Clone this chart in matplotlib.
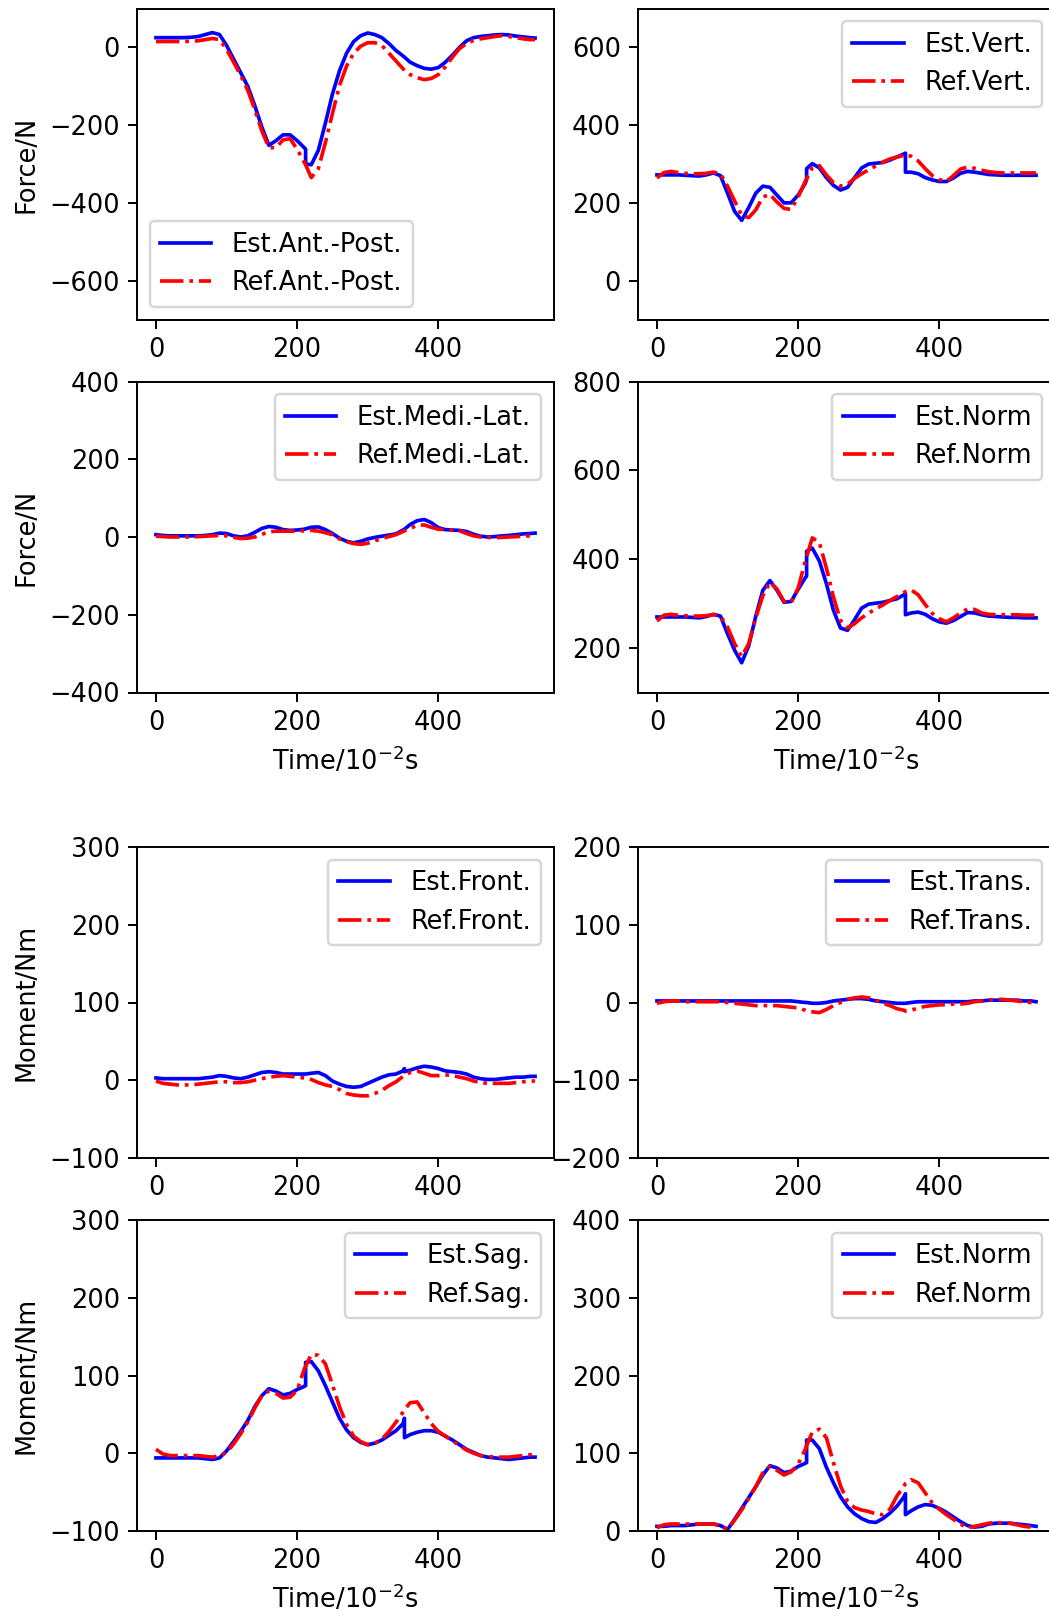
import matplotlib
matplotlib.use('Agg')
import matplotlib.pyplot as plt

plt.rcParams['font.size'] = 10.5

# time samples (10^-2 s); repeated 212/352 entries carry the jumps
T = [0, 10, 20, 30, 40, 50, 60, 70, 80, 90, 100, 110, 120, 130, 140, 150, 160, 170, 180, 190, 200, 210,
     212, 212,
     220, 230, 240, 250, 260, 270, 280, 290, 300, 310, 320, 330, 340, 350,
     352, 352,
     360, 370, 380, 390, 400, 410, 420, 430, 440, 450, 460, 470, 480, 490, 500, 510, 520, 530,
     537]

ap_est = [25, 25, 25, 25, 25, 26, 28, 33, 38, 33, 5, -30, -65, -100, -150, -205, -252, -240, -225, -225, -240, -258,
          -262, -300,
          -302, -265, -195, -120, -60, -15, 15, 30, 37, 33, 25, 10, -8, -22,
          -25, -25,
          -38, -47, -54, -56, -52, -38, -20, 0, 17, 25, 28, 30, 32, 33, 32, 29, 27, 25,
          24]
ap_ref = [15, 15, 15, 15, 15, 16, 17, 20, 23, 20, -5, -38, -72, -110, -160, -215, -258, -258, -238, -235, -262, -295,
          -302, -302,
          -335, -312, -245, -170, -98, -48, -15, 3, 12, 12, 5, -15, -35, -55,
          -60, -60,
          -70, -78, -83, -80, -70, -50, -25, -3, 10, 18, 22, 25, 28, 30, 28, 25, 22, 20,
          20]

vert_est = [272, 272, 272, 272, 271, 270, 269, 272, 277, 270, 225, 178, 155, 188, 225, 243, 240, 220, 200, 200, 220, 250,
            260, 288,
            301, 290, 265, 245, 233, 240, 265, 290, 300, 302, 304, 310, 318, 326,
            328, 279,
            279, 275, 265, 259, 255, 255, 264, 276, 281, 279, 276, 273, 272, 271, 271, 271, 271, 271,
            271]
vert_ref = [264, 278, 281, 278, 276, 275, 275, 276, 279, 275, 243, 205, 168, 162, 182, 215, 222, 202, 186, 183, 215, 255,
            262, 262,
            290, 296, 272, 252, 243, 248, 263, 275, 285, 295, 305, 313, 318, 322,
            324, 324,
            320, 308, 288, 270, 260, 255, 270, 287, 292, 289, 284, 280, 278, 277, 277, 277, 277, 277,
            277]

ml_est = [6, 4, 3, 3, 3, 3, 3, 4, 6, 10, 9, 3, 0, 3, 12, 22, 27, 25, 19, 17, 18, 20,
          21, 21,
          25, 26, 19, 9, -3, -11, -15, -11, -5, -1, 2, 5, 8, 18,
          20, 20,
          32, 42, 45, 37, 24, 19, 18, 17, 14, 7, 2, 0, 1, 3, 4, 6, 8, 9,
          10]
ml_ref = [2, 1, 0, 0, 0, 0, 1, 2, 3, 4, 3, -1, -4, -3, 0, 7, 13, 15, 15, 15, 15, 16,
          16, 16,
          17, 15, 11, 6, -5, -12, -17, -19, -16, -10, -4, 1, 6, 14,
          16, 16,
          22, 30, 31, 25, 20, 19, 18, 16, 9, 3, 0, -1, -2, -1, 0, 1, 2, 3,
          3]

fnorm_est = [270, 270, 270, 270, 270, 269, 268, 271, 276, 272, 232, 195, 167, 205, 272, 330, 352, 330, 303, 305, 332, 358,
             362, 418,
             425, 396, 345, 285, 245, 240, 264, 290, 299, 301, 303, 307, 311, 320,
             323, 275,
             279, 281, 276, 266, 259, 256, 262, 271, 280, 279, 275, 272, 271, 270, 269, 269, 268, 268,
             268]
fnorm_ref = [261, 274, 276, 274, 273, 272, 272, 273, 275, 272, 247, 210, 181, 210, 268, 318, 348, 333, 305, 302, 335, 395,
             405, 405,
             448, 438, 380, 315, 262, 245, 255, 268, 279, 288, 297, 307, 316, 325,
             327, 327,
             331, 320, 298, 278, 266, 259, 268, 279, 288, 287, 279, 276, 275, 275, 275, 275, 274, 274,
             274]

front_est = [3, 2, 2, 2, 2, 2, 2, 3, 4, 6, 5, 3, 2, 4, 7, 10, 11, 10, 8, 8, 8, 8,
             8, 8,
             9, 10, 6, -1, -5, -8, -9, -8, -4, 0, 4, 7, 8, 12,
             15, 11,
             13, 16, 18, 17, 15, 12, 11, 10, 8, 4, 2, 1, 1, 2, 3, 4, 4, 5,
             5]
front_ref = [-1, -4, -5, -6, -6, -6, -5, -4, -3, -2, -2, -3, -3, -2, 0, 2, 4, 5, 6, 5, 4, 3,
             3, 3,
             1, -3, -6, -8, -12, -17, -19, -20, -20, -17, -13, -7, -2, 5,
             6, 6,
             10, 12, 9, 6, 6, 7, 6, 4, 2, -1, -3, -4, -4, -4, -4, -3, -2, -1,
             -1]

trans_est = [2, 2, 2, 2, 2, 2, 2, 2, 2, 2, 2, 2, 2, 2, 2, 2, 2, 2, 2, 2, 1, 0,
             0, 0,
             -1, -1, 0, 2, 3, 4, 5, 5, 4, 2, 1, 0, -1, -1,
             -1, -1,
             0, 1, 1, 1, 1, 1, 1, 1, 1, 2, 2, 3, 3, 3, 3, 3, 2, 2,
             1]
trans_ref = [-1, 1, 2, 2, 1, 1, 1, 1, 1, 1, 0, -1, -2, -3, -4, -4, -4, -4, -5, -6, -7, -10,
             -11, -11,
             -12, -13, -9, -4, 0, 4, 6, 7, 6, 3, -1, -4, -8, -10,
             -11, -11,
             -10, -7, -5, -4, -3, -3, -2, -2, -1, 1, 2, 3, 4, 4, 3, 2, 1, 0,
             0]

sag_est = [-6, -6, -6, -6, -6, -6, -6, -7, -8, -6, 3, 15, 28, 42, 60, 74, 83, 80, 75, 77, 82, 86,
           87, 117,
           118, 106, 87, 66, 45, 30, 20, 14, 11, 13, 17, 23, 29, 38,
           45, 20,
           24, 27, 29, 29, 27, 22, 17, 11, 5, 1, -3, -5, -6, -7, -8, -7, -6, -5,
           -5]
sag_ref = [5, -1, -3, -3, -3, -3, -3, -4, -5, -3, 1, 12, 25, 40, 58, 74, 80, 77, 71, 72, 81, 108,
           112, 112,
           127, 126, 115, 88, 60, 37, 22, 15, 11, 13, 18, 28, 40, 53,
           56, 56,
           65, 66, 52, 38, 28, 22, 16, 10, 4, 0, -3, -4, -5, -5, -5, -4, -3, -2,
           -2]

mnorm_est = [6, 6, 7, 7, 7, 8, 9, 9, 9, 7, 2, 15, 29, 43, 57, 72, 84, 81, 75, 77, 83, 87,
             88, 117,
             117, 106, 82, 62, 44, 31, 22, 16, 12, 11, 16, 23, 32, 44,
             48, 21,
             26, 31, 34, 33, 29, 24, 18, 12, 7, 5, 6, 9, 10, 10, 10, 9, 8, 7,
             6]
mnorm_ref = [4, 8, 9, 9, 9, 9, 9, 9, 9, 7, 2, 14, 27, 42, 57, 75, 83, 78, 72, 76, 86, 105,
             110, 110,
             127, 131, 120, 88, 58, 38, 30, 27, 25, 22, 21, 28, 45, 58,
             61, 61,
             66, 62, 49, 36, 28, 21, 15, 9, 4, 6, 8, 10, 11, 10, 10, 8, 6, 5,
             4]

DPI = 176
fig = plt.figure(figsize=(1049 / DPI, 1616 / DPI), dpi=DPI)

W = 417 / 1049
H = 311 / 1616
lefts = [137 / 1049, 638 / 1049]
bottoms = [1296.5 / 1616, 923.5 / 1616, 458 / 1616, 85 / 1616]

panels = [
    (0, 0, ap_est, ap_ref, 'Est.Ant.-Post.', 'Ref.Ant.-Post.', (-700, 100), [-600, -400, -200, 0], 'lower left'),
    (0, 1, vert_est, vert_ref, 'Est.Vert.', 'Ref.Vert.', (-100, 700), [0, 200, 400, 600], 'upper right'),
    (1, 0, ml_est, ml_ref, 'Est.Medi.-Lat.', 'Ref.Medi.-Lat.', (-400, 400), [-400, -200, 0, 200, 400], 'upper right'),
    (1, 1, fnorm_est, fnorm_ref, 'Est.Norm', 'Ref.Norm', (100, 800), [200, 400, 600, 800], 'upper right'),
    (2, 0, front_est, front_ref, 'Est.Front.', 'Ref.Front.', (-100, 300), [-100, 0, 100, 200, 300], 'upper right'),
    (2, 1, trans_est, trans_ref, 'Est.Trans.', 'Ref.Trans.', (-200, 200), [-200, -100, 0, 100, 200], 'upper right'),
    (3, 0, sag_est, sag_ref, 'Est.Sag.', 'Ref.Sag.', (-100, 300), [-100, 0, 100, 200, 300], 'upper right'),
    (3, 1, mnorm_est, mnorm_ref, 'Est.Norm', 'Ref.Norm', (0, 400), [0, 100, 200, 300, 400], 'upper right'),
]

for row, col, est, ref, lab_e, lab_r, ylim, yticks, loc in panels:
    ax = fig.add_axes([lefts[col], bottoms[row], W, H])
    ax.plot(T, est, 'b-', label=lab_e)
    ax.plot(T, ref, 'r-.', label=lab_r)
    ax.set_ylim(*ylim)
    ax.set_yticks(yticks)
    ax.set_xticks([0, 200, 400])
    ax.legend(loc=loc)
    if col == 0:
        ax.set_ylabel('Force/N' if row < 2 else 'Moment/Nm')
    if row in (1, 3):
        ax.set_xlabel('Time/10$^{-2}$s')

fig.savefig('out.png', dpi=DPI)
